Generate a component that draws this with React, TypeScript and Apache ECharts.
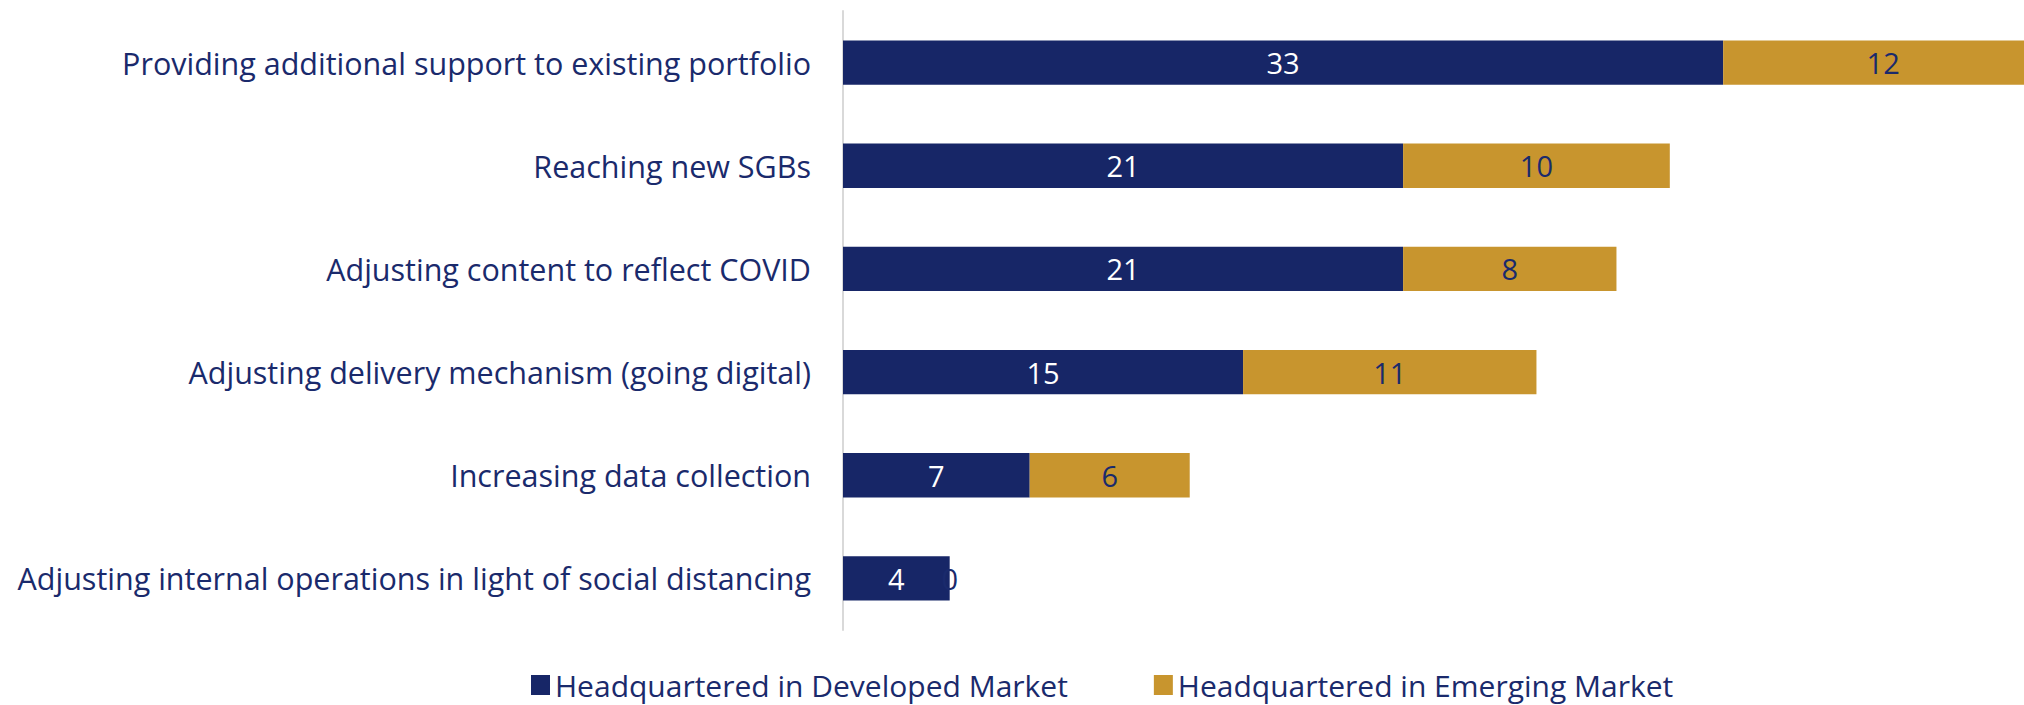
import React, { useEffect, useRef } from "react";
import * as echarts from "echarts";

const categories = [
  "Providing additional support to existing portfolio",
  "Reaching new SGBs",
  "Adjusting content to reflect COVID",
  "Adjusting delivery mechanism (going digital)",
  "Increasing data collection",
  "Adjusting internal operations in light of social distancing",
];
const developed = [33, 21, 21, 15, 7, 4];
const emerging = [12, 10, 8, 11, 6, 0];
const seriesNames = ["Headquartered in Developed Market", "Headquartered in Emerging Market"];

const NAVY = "#172667";
const GOLD = "#C8952E";
const TEXT = "#1a2a6c";
const FONT = "Open Sans";

export default function App() {
  const ref = useRef<HTMLDivElement>(null);
  useEffect(() => {
    document.body.style.margin = "0";
    const chart = echarts.init(ref.current!, null, { renderer: "svg" });
    chart.setOption({
      animation: false,
      textStyle: { fontFamily: FONT },
      grid: { left: 843, top: 11, right: 0, bottom: 75, containLabel: false },
      xAxis: {
        type: "value",
        min: 0,
        max: 44.28,
        show: false,
      },
      yAxis: {
        type: "category",
        data: categories,
        inverse: true,
        axisLine: { show: true, lineStyle: { color: "#d9d9d9", width: 2 } },
        axisTick: { show: false },
        axisLabel: { color: TEXT, fontSize: 30.5, margin: 32, fontFamily: FONT },
      },
      legend: {
        left: 531,
        top: 668,
        padding: 0,
        itemWidth: 19,
        itemHeight: 20,
        itemGap: 86,
        icon: "rect",
        textStyle: { color: TEXT, fontSize: 30, lineHeight: 34, fontFamily: FONT },
        data: seriesNames,
      },
      series: [
        {
          name: seriesNames[0],
          type: "bar",
          stack: "a",
          data: developed,
          barCategoryGap: "57%",
          clip: false,
          itemStyle: { color: NAVY },
          label: { show: true, position: "inside", color: "#fff", fontSize: 29, fontFamily: FONT },
        },
        {
          name: seriesNames[1],
          type: "bar",
          stack: "a",
          data: emerging,
          barCategoryGap: "57%",
          clip: false,
          itemStyle: { color: GOLD },
          label: { show: true, position: "inside", color: TEXT, fontSize: 29, fontFamily: FONT },
        },
      ],
    });
    return () => chart.dispose();
  }, []);
  return <div ref={ref} style={{ width: 2024, height: 705 }} />;
}
